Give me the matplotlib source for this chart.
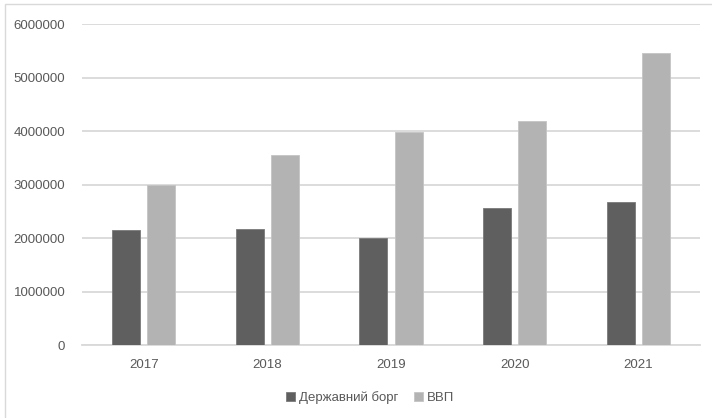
import matplotlib
matplotlib.use("Agg")
import matplotlib.pyplot as plt
import numpy as np
from matplotlib.patches import Rectangle

years = ["2017", "2018", "2019", "2020", "2021"]
debt = [2141674, 2168627, 1998275, 2551941, 2672093]
gdp = [2983882, 3560596, 3974564, 4194102, 5459574]
series_names = ["Державний борг", "ВВП"]
yticks = [0, 1000000, 2000000, 3000000, 4000000, 5000000, 6000000]

plt.rcParams['font.family'] = ['Liberation Sans', 'DejaVu Sans']

fig = plt.figure(figsize=(7.12, 4.18), dpi=100)
fig.patch.set_facecolor("white")
# chart frame
fig.patches.append(Rectangle((5/712, -0.01), 1.0, 1 - 4/418 + 0.01, transform=fig.transFigure,
                             fill=False, edgecolor="#d9d9d9", linewidth=1.0))

ax = fig.add_axes([82/712, 1 - 345/418, 618/712, 321/418])
x = np.arange(len(years))
w = 0.227
off = 0.142
ax.bar(x - off, debt, width=w, color="#5f5f5f", edgecolor="#7a7a7a", linewidth=0.6,
       label=series_names[0], zorder=3)
ax.bar(x + off, gdp, width=w, color="#b3b3b3", edgecolor="#c4c4c4", linewidth=0.6,
       label=series_names[1], zorder=3)

ax.set_xlim(-0.5, len(years) - 0.5)
ax.set_ylim(0, 6000000)
ax.set_yticks(yticks)
ax.set_yticklabels([str(v) for v in yticks])
ax.set_xticks(x)
ax.set_xticklabels(years)
ax.yaxis.grid(True, color="#d9d9d9", linewidth=1.3, zorder=0)
ax.set_axisbelow(True)
for s in ["top", "right", "left"]:
    ax.spines[s].set_visible(False)
ax.spines["bottom"].set_color("#d9d9d9")
ax.spines["bottom"].set_linewidth(1.3)
ax.tick_params(axis="both", length=0, colors="#595959", labelsize=9.5)
ax.tick_params(axis="y", pad=12)
ax.tick_params(axis="x", pad=10)

handles, labels = ax.get_legend_handles_labels()
leg = fig.legend(handles, labels, loc="center", bbox_to_anchor=(370/712, 1 - 398/418), ncol=2,
                 frameon=False, handlelength=0.7, handleheight=0.7, handletextpad=0.3,
                 columnspacing=1.2, fontsize=9.5)
for t in leg.get_texts():
    t.set_color("#595959")

fig.savefig("out.png", dpi=100, facecolor="white")
